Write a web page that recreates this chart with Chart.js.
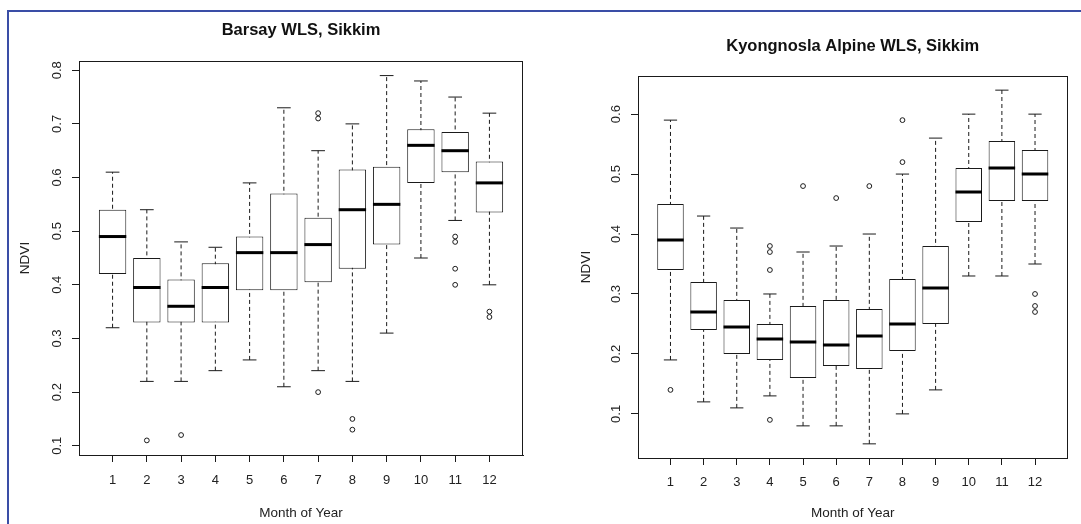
<!DOCTYPE html>
<html>
<head>
<meta charset="utf-8">
<title>NDVI by month of year</title>
<script src="https://cdn.jsdelivr.net/npm/chart.js@4.4.1/dist/chart.umd.min.js"></script>
<style>
    html, body { margin: 0; padding: 0; background: #fff; }
    #page { position: relative; width: 1081px; height: 524px; overflow: hidden; background: #fff; }
    .panel { position: absolute; top: 0; height: 524px; }
    #leftPanel { left: 0; width: 540px; }
    #rightPanel { left: 540px; width: 541px; }
    #frame {
        position: absolute; left: 7px; top: 10px; right: -10px; bottom: -10px;
        border-top: 2px solid #3a4ea6; border-left: 2px solid #3a4ea6;
        pointer-events: none;
    }
</style>
</head>
<body>
<div id="page">
    <div class="panel" id="leftPanel"><canvas id="barsayChart"></canvas></div>
    <div class="panel" id="rightPanel"><canvas id="kyongnoslaChart"></canvas></div>
    <div id="frame"></div>
</div>
<script>
// month labels on the x axis
const months = ['1', '2', '3', '4', '5', '6', '7', '8', '9', '10', '11', '12'];

// Barsay WLS
const barsayTicks = [0.1, 0.2, 0.3, 0.4, 0.5, 0.6, 0.7, 0.8];
const barsayMin = [0.32, 0.22, 0.22, 0.24, 0.26, 0.21, 0.24, 0.22, 0.31, 0.45, 0.52, 0.40];
const barsayQ1 = [0.42, 0.33, 0.33, 0.33, 0.39, 0.39, 0.405, 0.43, 0.475, 0.59, 0.61, 0.535];
const barsayMedian = [0.49, 0.395, 0.36, 0.395, 0.46, 0.46, 0.475, 0.54, 0.55, 0.66, 0.65, 0.59];
const barsayQ3 = [0.54, 0.45, 0.41, 0.44, 0.49, 0.57, 0.525, 0.615, 0.62, 0.69, 0.685, 0.63];
const barsayMax = [0.61, 0.54, 0.48, 0.47, 0.59, 0.73, 0.65, 0.70, 0.79, 0.78, 0.75, 0.72];
const barsayOutliers = [[], [0.11], [0.12], [], [], [], [0.72, 0.71, 0.20], [0.15, 0.13], [], [], [0.49, 0.48, 0.43, 0.40], [0.35, 0.34]];

// Kyongnosla Alpine WLS
const kyongnoslaTicks = [0.1, 0.2, 0.3, 0.4, 0.5, 0.6];
const kyongnoslaMin = [0.19, 0.12, 0.11, 0.13, 0.08, 0.08, 0.05, 0.10, 0.14, 0.33, 0.33, 0.35];
const kyongnoslaQ1 = [0.34, 0.24, 0.20, 0.19, 0.16, 0.18, 0.175, 0.205, 0.25, 0.42, 0.455, 0.455];
const kyongnoslaMedian = [0.39, 0.27, 0.245, 0.225, 0.22, 0.215, 0.23, 0.25, 0.31, 0.47, 0.51, 0.50];
const kyongnoslaQ3 = [0.45, 0.32, 0.29, 0.25, 0.28, 0.29, 0.275, 0.325, 0.38, 0.51, 0.555, 0.54];
const kyongnoslaMax = [0.59, 0.43, 0.41, 0.30, 0.37, 0.38, 0.40, 0.50, 0.56, 0.60, 0.64, 0.60];
const kyongnoslaOutliers = [[0.14], [], [], [0.38, 0.37, 0.34, 0.09], [0.48], [0.46], [0.48], [0.59, 0.52], [], [], [], [0.30, 0.28, 0.27]];

(function() {
    'use strict';

    const INK = '#1a1a1a';
    const FONT = "'Liberation Sans', Arial, Helvetica, sans-serif";

    function whiskerPoints(lo, hi) {
        const pts = [];
        lo.forEach(function(v, i) {
            pts.push({ x: i + 1, y: v }, { x: i + 1, y: hi[i] }, { x: i + 1, y: null });
        });
        return pts;
    }

    function boxPoints(q1, q3) {
        return q1.map(function(v, i) { return { x: i + 1, y: [v, q3[i]] }; });
    }

    function valuePoints(values) {
        return values.map(function(v, i) { return { x: i + 1, y: v }; });
    }

    function outlierPoints(groups) {
        const pts = [];
        groups.forEach(function(group, i) {
            group.forEach(function(v) { pts.push({ x: i + 1, y: v }); });
        });
        return pts;
    }

    // half-length in px of a horizontal mark spanning `units` of the month axis
    function halfWidth(units) {
        return function(ctx) {
            const s = ctx.chart.scales.x;
            if (!s) return 0;
            return Math.abs(s.getPixelForValue(1 + units / 2) - s.getPixelForValue(1));
        };
    }

    // R style box round the plot region
    const framePlugin = {
        id: 'plotFrame',
        afterDatasetsDraw: function(chart) {
            const a = chart.chartArea;
            const ctx = chart.ctx;
            ctx.save();
            ctx.strokeStyle = INK;
            ctx.lineWidth = 1;
            ctx.strokeRect(Math.round(a.left) + 0.5, Math.round(a.top) + 0.5,
                Math.round(a.right - a.left) - 1, Math.round(a.bottom - a.top));
            ctx.restore();
        }
    };

    function makeBoxChart(canvasId, cfg) {
        const stats = cfg.stats;
        const allLow = Math.min(...stats.min, ...stats.outliers.flat());
        const allHigh = Math.max(...stats.max, ...stats.outliers.flat());
        const ext = (allHigh - allLow) * 0.04;

        return new Chart(document.getElementById(canvasId), {
            type: 'bar',
            data: {
                datasets: [{
                    type: 'line',
                    data: whiskerPoints(stats.min, stats.max),
                    borderColor: INK,
                    borderWidth: 1,
                    borderDash: [4, 3],
                    pointRadius: 0,
                    spanGaps: false,
                    order: 4,
                }, {
                    type: 'bar',
                    data: boxPoints(stats.q1, stats.q3),
                    backgroundColor: '#ffffff',
                    borderColor: INK,
                    borderWidth: 1,
                    borderSkipped: false,
                    barPercentage: 0.8,
                    categoryPercentage: 1,
                    order: 3,
                }, {
                    type: 'scatter',
                    data: valuePoints(stats.min).concat(valuePoints(stats.max)),
                    pointStyle: 'line',
                    radius: halfWidth(0.4),
                    borderColor: INK,
                    borderWidth: 1,
                    order: 2,
                }, {
                    type: 'scatter',
                    data: valuePoints(stats.median),
                    pointStyle: 'line',
                    radius: halfWidth(0.8),
                    borderColor: '#000',
                    borderWidth: 3,
                    order: 1,
                }, {
                    type: 'scatter',
                    data: outlierPoints(stats.outliers),
                    pointStyle: 'circle',
                    radius: 2.4,
                    borderColor: INK,
                    borderWidth: 1,
                    backgroundColor: 'rgba(255,255,255,0)',
                    order: 0,
                }],
            },
            options: {
                responsive: true,
                maintainAspectRatio: false,
                animation: false,
                events: [],
                layout: { padding: { top: 0, left: 0, bottom: 0, right: cfg.padRight } },
                plugins: {
                    legend: { display: false },
                    tooltip: { enabled: false },
                    title: {
                        display: true,
                        text: cfg.title,
                        fullSize: false,
                        color: '#111',
                        font: { family: FONT, size: 16.5, weight: 'bold' },
                        padding: { top: cfg.titleTop, bottom: cfg.titleBottom },
                    },
                },
                scales: {
                    x: {
                        type: 'linear',
                        offset: false,
                        min: 0.5 - 0.48,
                        max: months.length + 0.5 + 0.48,
                        afterBuildTicks: function(axis) {
                            axis.ticks = months.map(function(m, i) { return { value: i + 1 }; });
                        },
                        afterFit: function(axis) { axis.height = cfg.xAxisHeight; },
                        grid: { offset: false, drawOnChartArea: false, drawTicks: true, tickLength: 7, color: INK },
                        border: { display: true, color: INK },
                        ticks: {
                            color: '#222',
                            padding: cfg.xTickPad,
                            maxRotation: 0,
                            autoSkip: false,
                            font: { family: FONT, size: 13 },
                            callback: function(value) { return months[value - 1]; },
                        },
                        title: {
                            display: true,
                            text: 'Month of Year',
                            color: '#222',
                            font: { family: FONT, size: 13.5 },
                            padding: { top: 0, bottom: 2.2 },
                        },
                    },
                    y: {
                        type: 'linear',
                        min: allLow - ext,
                        max: allHigh + ext,
                        afterBuildTicks: function(axis) {
                            axis.ticks = cfg.yTicks.map(function(v) { return { value: v }; });
                        },
                        afterFit: function(axis) { axis.width = cfg.yAxisWidth; },
                        grid: { drawOnChartArea: false, drawTicks: true, tickLength: 7, color: INK },
                        border: { display: true, color: INK },
                        ticks: {
                            color: '#222',
                            padding: 6,
                            minRotation: 90,
                            maxRotation: 90,
                            crossAlign: 'center',
                            font: { family: FONT, size: 13 },
                            callback: function(value) { return value.toFixed(1); },
                        },
                        title: {
                            display: true,
                            text: 'NDVI',
                            color: '#222',
                            font: { family: FONT, size: 13.5 },
                            padding: { top: cfg.yTitlePad, bottom: 0 },
                        },
                    },
                },
            },
            plugins: [framePlugin],
        });
    }

    makeBoxChart('barsayChart', {
        title: 'Barsay WLS, Sikkim',
        titleTop: 20.1,
        titleBottom: 21.1,
        padRight: 17,
        yAxisWidth: 79,
        xAxisHeight: 69,
        xTickPad: 11,
        yTitlePad: 16.9,
        yTicks: barsayTicks,
        stats: {
            min: barsayMin, q1: barsayQ1, median: barsayMedian,
            q3: barsayQ3, max: barsayMax, outliers: barsayOutliers,
        },
    });

    makeBoxChart('kyongnoslaChart', {
        title: 'Kyongnosla Alpine WLS, Sikkim',
        titleTop: 36.8,
        titleBottom: 19.4,
        padRight: 13.5,
        yAxisWidth: 98,
        xAxisHeight: 66,
        xTickPad: 10,
        yTitlePad: 37.9,
        yTicks: kyongnoslaTicks,
        stats: {
            min: kyongnoslaMin, q1: kyongnoslaQ1, median: kyongnoslaMedian,
            q3: kyongnoslaQ3, max: kyongnoslaMax, outliers: kyongnoslaOutliers,
        },
    });
})();
</script>
</body>
</html>
